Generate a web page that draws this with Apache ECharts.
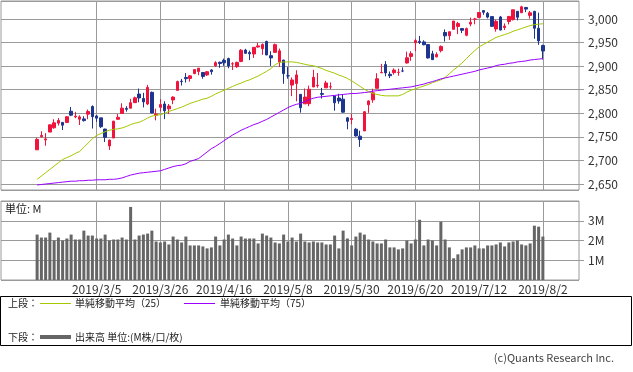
<!DOCTYPE html>
<html><head><meta charset="utf-8">
<script src="https://cdn.jsdelivr.net/npm/echarts@6/dist/echarts.min.js"></script>
<style>html,body{margin:0;padding:0;background:#fff}#c{width:633px;height:372px}</style>
</head><body><div id="c"></div>
<script>
const dates = [
'2019/2/12','2019/2/13','2019/2/14','2019/2/15','2019/2/19','2019/2/20','2019/2/21','2019/2/22','2019/2/25','2019/2/26','2019/2/27','2019/2/28',
'2019/3/1','2019/3/4','2019/3/5','2019/3/6','2019/3/7','2019/3/8','2019/3/11','2019/3/12','2019/3/13','2019/3/14','2019/3/15','2019/3/18','2019/3/19','2019/3/20','2019/3/21','2019/3/22','2019/3/25','2019/3/26','2019/3/27','2019/3/28','2019/3/29',
'2019/4/1','2019/4/2','2019/4/3','2019/4/4','2019/4/5','2019/4/8','2019/4/9','2019/4/10','2019/4/11','2019/4/12','2019/4/15','2019/4/16','2019/4/17','2019/4/18','2019/4/22','2019/4/23','2019/4/24','2019/4/25','2019/4/26','2019/4/29','2019/4/30',
'2019/5/1','2019/5/2','2019/5/3','2019/5/6','2019/5/7','2019/5/8','2019/5/9','2019/5/10','2019/5/13','2019/5/14','2019/5/15','2019/5/16','2019/5/17','2019/5/20','2019/5/21','2019/5/22','2019/5/23','2019/5/24','2019/5/28','2019/5/29','2019/5/30','2019/5/31',
'2019/6/3','2019/6/4','2019/6/5','2019/6/6','2019/6/7','2019/6/10','2019/6/11','2019/6/12','2019/6/13','2019/6/14','2019/6/17','2019/6/18','2019/6/19','2019/6/20','2019/6/21','2019/6/24','2019/6/25','2019/6/26','2019/6/27','2019/6/28',
'2019/7/1','2019/7/2','2019/7/3','2019/7/5','2019/7/8','2019/7/9','2019/7/10','2019/7/11','2019/7/12','2019/7/15','2019/7/16','2019/7/17','2019/7/18','2019/7/19','2019/7/22','2019/7/23','2019/7/24','2019/7/25','2019/7/26','2019/7/29','2019/7/30','2019/7/31',
'2019/8/1','2019/8/2'];

const opens = [
2722.6,2750.3,2743.5,2760.2,2769.3,2779.1,2780.7,2780.7,2804.4,2792.4,2787.5,2788.1,
2798.2,2814.4,2794.4,2790.3,2766.5,2730.8,2747.6,2787.3,2799.8,2810.4,2810.8,2822.6,2840.8,2831.3,2819.7,2844.5,2796.0,2812.7,2819.7,2809.4,2828.3,
2848.6,2868.2,2876.1,2874.0,2884.2,2888.5,2886.6,2881.4,2891.9,2900.9,2908.3,2912.3,2916.0,2904.8,2898.8,2910.0,2934.0,2929.0,2925.8,2940.6,2937.1,
2952.3,2922.2,2929.2,2908.9,2913.0,2879.6,2859.8,2863.1,2840.2,2820.1,2820.4,2855.8,2858.6,2841.9,2854.0,2856.1,2836.7,2832.4,2830.0,2790.3,2786.9,2766.2,
2751.5,2762.6,2818.1,2828.5,2852.9,2885.8,2903.3,2882.7,2886.2,2886.8,2889.8,2906.7,2920.6,2949.6,2952.7,2951.4,2945.8,2926.1,2919.7,2932.9,
2971.4,2964.7,2978.1,2984.3,2979.8,2965.5,2989.3,2999.6,3003.4,3017.8,3012.1,3005.1,2978.9,3004.3,2981.9,2994.7,2998.8,3016.3,3013.3,3024.5,3007.7,3016.2,
2980.3,2943.9];
const highs = [
2748.2,2761.9,2757.9,2775.7,2787.3,2789.9,2781.6,2794.2,2813.5,2803.1,2795.8,2793.7,
2808.0,2816.9,2796.4,2790.3,2767.3,2744.1,2784.0,2798.3,2821.2,2815.0,2830.7,2835.4,2852.4,2843.5,2860.3,2846.2,2809.8,2829.9,2825.6,2819.7,2836.0,
2869.4,2872.9,2885.3,2881.3,2893.2,2896.0,2886.9,2889.7,2893.4,2910.5,2909.6,2916.1,2918.0,2908.4,2909.5,2936.3,2936.8,2933.1,2939.9,2949.5,2948.2,
2954.1,2931.7,2947.9,2937.3,2913.0,2898.0,2876.0,2891.3,2840.2,2852.5,2858.7,2892.2,2885.5,2853.9,2868.9,2865.5,2836.7,2841.4,2840.5,2792.0,2799.0,2769.0,
2763.1,2804.5,2827.3,2852.1,2885.0,2904.8,2910.6,2888.6,2895.2,2894.5,2897.3,2930.8,2931.7,2958.1,2964.2,2954.9,2946.5,2932.6,2929.3,2944.0,
2977.9,2973.2,2995.8,2994.0,2980.8,2981.9,3003.0,3002.3,3013.9,3017.8,3015.0,3005.3,2998.3,3006.5,2990.7,3005.9,3019.6,3016.3,3028.0,3025.6,3017.2,3017.4,
3013.6,2945.5];
const lows = [
2722.6,2748.6,2731.2,2760.2,2767.3,2774.1,2764.6,2779.1,2794.0,2789.5,2775.1,2782.5,
2787.4,2767.7,2782.0,2768.7,2739.1,2722.3,2747.6,2786.7,2799.8,2803.5,2810.8,2821.7,2823.3,2812.4,2817.4,2800.5,2785.0,2804.0,2787.7,2798.8,2819.2,
2848.6,2858.8,2865.2,2867.1,2883.0,2880.8,2873.3,2879.1,2882.0,2898.4,2896.5,2900.7,2895.5,2891.9,2896.4,2908.5,2926.1,2912.8,2917.6,2939.4,2924.1,
2923.4,2900.5,2929.2,2898.2,2862.6,2873.3,2836.4,2825.4,2801.4,2820.1,2815.1,2855.8,2854.2,2831.3,2854.0,2851.1,2805.5,2820.2,2801.6,2766.1,2776.7,2750.5,
2728.8,2762.6,2800.9,2822.4,2852.9,2885.5,2878.5,2874.7,2882.0,2879.6,2887.3,2905.4,2911.4,2931.5,2946.9,2944.1,2916.0,2913.0,2918.6,2929.1,
2952.2,2955.9,2978.0,2968.0,2970.1,2963.4,2984.6,2988.8,3001.9,3008.8,3001.2,2984.2,2973.1,2975.9,2976.7,2988.6,2996.8,2997.2,3012.6,3014.5,3000.9,2958.1,
2945.2,2914.1];
const closes = [
2744.7,2753.0,2745.7,2775.6,2779.8,2784.7,2774.9,2792.7,2796.1,2793.9,2792.4,2784.5,
2803.7,2792.8,2789.7,2771.5,2749.0,2743.1,2783.3,2791.5,2810.9,2808.5,2822.5,2832.9,2832.6,2824.2,2854.9,2800.7,2798.4,2818.5,2805.4,2815.4,2834.4,
2867.2,2867.2,2873.4,2879.4,2892.7,2895.8,2878.2,2888.2,2888.3,2907.4,2905.6,2907.1,2900.5,2905.0,2908.0,2933.7,2927.3,2926.2,2939.9,2943.0,2945.8,
2923.7,2917.5,2945.6,2932.5,2884.1,2879.4,2870.7,2881.4,2811.9,2834.4,2851.0,2876.3,2859.5,2840.2,2864.4,2856.3,2822.2,2826.1,2802.4,2783.0,2788.9,2752.1,
2744.5,2803.3,2826.2,2843.5,2873.3,2886.7,2885.7,2879.8,2891.6,2887.0,2889.7,2917.8,2926.5,2954.2,2950.5,2945.4,2917.4,2913.8,2924.9,2941.8,
2964.3,2973.0,2995.8,2990.4,2976.0,2979.6,2993.1,2999.9,3013.8,3014.3,3004.0,2984.4,2995.1,2976.6,2985.0,3005.5,3019.6,3003.7,3025.9,3021.0,3013.2,2980.4,
2953.6,2932.1];

const ma25 = [
2660,2667,2674,2681,2688,2695,2702,2706,2710,2715,
2719,2728,2737,2746,2753,2757,2761,2764,2766,2767,
2769,2772,2776,2779,2781,2785,2790,2794,2796,2797,
2800,2804,2807,2810,2813,2817,2821,2824,2827,2830,
2832,2836,2841,2845,2849,2853,2857,2861,2864,2868,
2871,2875,2879,2884,2889,2895,2903,2908,2909,2909,
2909,2908,2906,2904,2902,2901,2898,2895,2891,2888,
2885,2881,2878,2874,2869,2863,2857,2851,2846,2842,
2840,2838,2837,2837,2837,2837,2840,2845,2849,2852,
2855,2858,2861,2865,2868,2871,2876,2884,2892,2899,
2907,2916,2925,2933,2941,2946,2951,2956,2961,2964,
2967,2970,2974,2977,2980,2983,2986,2988,2989,2990];
const ma75 = [
2648,2649,2650,2651,2652,2653,2654,2655,2656,2656,
2657,2657,2658,2658,2659,2659,2659,2660,2660,2661,
2663,2666,2669,2671,2673,2674,2675,2676,2677,2678,
2681,2684,2687,2689,2690,2693,2698,2701,2704,2711,
2718,2725,2730,2736,2742,2748,2754,2759,2764,2768,
2772,2776,2779,2783,2787,2792,2797,2802,2807,2812,
2816,2819,2821,2825,2829,2832,2834,2835,2836,2837,
2838,2839,2840,2841,2842,2842,2843,2844,2845,2847,
2848,2849,2850,2851,2852,2853,2854,2855,2856,2858,
2860,2862,2865,2867,2870,2873,2875,2877,2879,2881,
2883,2885,2887,2889,2892,2894,2896,2898,2901,2903,
2904,2906,2907,2909,2910,2911,2913,2914,2915,2916];

const volumes = [
2.30,2.15,2.15,2.40,2.00,2.15,2.00,2.10,2.30,2.05,
2.05,2.50,2.25,2.25,2.10,2.10,2.30,2.00,2.05,2.05,
2.15,2.05,3.70,2.05,2.25,2.30,2.35,2.50,1.95,1.90,
1.95,1.80,2.20,2.05,1.90,2.20,1.75,1.75,1.75,1.70,
1.60,1.65,2.20,1.75,2.05,2.30,2.10,1.75,2.20,2.10,
2.10,2.10,1.85,2.35,2.25,2.15,1.90,1.85,2.30,1.95,
2.15,1.95,2.35,1.95,1.90,1.95,1.90,1.90,1.80,1.80,
2.25,1.60,2.50,2.10,1.75,2.20,2.40,2.30,2.05,1.95,
1.85,1.85,2.05,1.65,1.65,1.55,1.60,2.00,1.85,2.05,
3.05,1.75,2.05,2.00,1.75,2.95,2.05,1.65,1.10,1.30,
1.55,1.65,1.65,1.75,1.60,1.60,1.75,1.75,1.80,1.90,
1.70,1.90,1.95,2.00,1.80,1.75,1.85,2.75,2.70,2.20];

const tickLabels = ['2019/3/5','2019/3/26','2019/4/16','2019/5/8','2019/5/30','2019/6/20','2019/7/12','2019/8/2'];
const padCount = 8;

const FF = "'Noto Sans CJK JP', 'Noto Sans', sans-serif";
const GRID_C = '#9a9a9a';
const RED = '#f0143c';
const BLUE = '#1e3590';

const padL = Array.from({length: padCount}, (_, i) => 'padL' + i);
const padR = Array.from({length: padCount}, (_, i) => 'padR' + i);
const cats = padL.concat(dates, padR);
const blanks = Array(padCount).fill('-');
const candleData = blanks.concat(dates.map((d, i) => [opens[i], closes[i], lows[i], highs[i]]), blanks);
const ma25Data = blanks.concat(ma25, blanks);
const ma75Data = blanks.concat(ma75, blanks);
const volData = blanks.concat(volumes, blanks);
const vLines = tickLabels.map(d => ({xAxis: d}));

const chart = echarts.init(document.getElementById('c'), null, {renderer: 'canvas'});
chart.setOption({
  animation: false,
  backgroundColor: '#fff',
  textStyle: {fontFamily: FF},
  grid: [
    {left: 1, top: 1, width: 578, height: 189, show: true, borderColor: GRID_C, borderWidth: 1, containLabel: false},
    {left: 1, top: 201, width: 578, height: 79, show: true, borderColor: GRID_C, borderWidth: 1, containLabel: false}
  ],
  xAxis: [
    {type: 'category', gridIndex: 0, data: cats, boundaryGap: true,
     axisLine: {show: false}, axisTick: {show: false}, axisLabel: {show: false}, splitLine: {show: false}},
    {type: 'category', gridIndex: 1, data: cats, boundaryGap: true,
     axisLine: {show: false}, axisTick: {show: false}, splitLine: {show: false},
     axisLabel: {show: true, interval: (idx, val) => tickLabels.includes(val), color: '#333', fontSize: 12, margin: 3, fontFamily: FF}}
  ],
  yAxis: [
    {type: 'value', gridIndex: 0, position: 'right', min: 2637.3, max: 3038.2, splitNumber: 8, scale: true,
     axisLine: {show: false}, axisTick: {show: true, length: 5, lineStyle: {color: GRID_C}},
     splitLine: {show: true, lineStyle: {color: GRID_C, width: 1}},
     axisLabel: {showMinLabel: false, showMaxLabel: false, color: '#333', fontSize: 12, margin: 9, fontFamily: FF}},
    {type: 'value', gridIndex: 1, position: 'right', min: 0, max: 4, interval: 1,
     axisLine: {show: false}, axisTick: {show: true, length: 5, lineStyle: {color: GRID_C}},
     splitLine: {show: true, lineStyle: {color: GRID_C, width: 1}},
     axisLabel: {showMinLabel: false, showMaxLabel: false, color: '#333', fontSize: 12, margin: 9, fontFamily: FF,
       formatter: v => v + 'M'}}
  ],
  series: [
    {type: 'candlestick', xAxisIndex: 0, yAxisIndex: 0, data: candleData, barWidth: 3,
     itemStyle: {color: RED, color0: BLUE, borderColor: RED, borderColor0: BLUE, borderWidth: 1},
     markLine: {silent: true, symbol: ['none', 'none'], z: 1, label: {show: false},
       lineStyle: {color: GRID_C, width: 1, type: 'solid'}, emphasis: {disabled: true}, data: vLines}},
    {type: 'line', xAxisIndex: 0, yAxisIndex: 0, data: ma25Data, symbol: 'none', smooth: false,
     lineStyle: {color: '#a3c800', width: 1}},
    {type: 'line', xAxisIndex: 0, yAxisIndex: 0, data: ma75Data, symbol: 'none', smooth: false,
     lineStyle: {color: '#9b00ff', width: 1}},
    {type: 'bar', xAxisIndex: 1, yAxisIndex: 1, data: volData, barWidth: 3,
     itemStyle: {color: '#666666'},
     markLine: {silent: true, symbol: ['none', 'none'], z: 1, label: {show: false},
       lineStyle: {color: GRID_C, width: 1, type: 'solid'}, emphasis: {disabled: true}, data: vLines}}
  ],
  graphic: [
    {type: 'text', left: 5, top: 203, style: {text: '単位: M', fill: '#222', font: '11px ' + FF}},
    {type: 'rect', shape: {x: 0.5, y: 296.5, width: 631, height: 49}, style: {fill: 'none', stroke: '#000', lineWidth: 1}},
    {type: 'text', x: 8, y: 303, style: {text: '上段：', fill: '#222', font: '10px ' + FF, verticalAlign: 'middle'}},
    {type: 'line', shape: {x1: 40, y1: 303.5, x2: 71, y2: 303.5}, style: {stroke: '#a3c800', lineWidth: 1}},
    {type: 'text', x: 75, y: 303, style: {text: '単純移動平均（25）', fill: '#222', font: '10px ' + FF, verticalAlign: 'middle'}},
    {type: 'line', shape: {x1: 184, y1: 303.5, x2: 215, y2: 303.5}, style: {stroke: '#9b00ff', lineWidth: 1}},
    {type: 'text', x: 220, y: 303, style: {text: '単純移動平均（75）', fill: '#222', font: '10px ' + FF, verticalAlign: 'middle'}},
    {type: 'text', x: 8, y: 337, style: {text: '下段：', fill: '#222', font: '10px ' + FF, verticalAlign: 'middle'}},
    {type: 'line', shape: {x1: 40, y1: 337, x2: 71, y2: 337}, style: {stroke: '#666666', lineWidth: 4}},
    {type: 'text', x: 75, y: 337, style: {text: '出来高 単位:(M株/口/枚)', fill: '#222', font: '10px ' + FF, verticalAlign: 'middle'}},
    {type: 'text', x: 614, y: 358, style: {text: '(c)Quants Research Inc.', fill: '#444', font: '11px ' + FF, align: 'right', verticalAlign: 'middle'}}
  ]
});
</script>
</body></html>
